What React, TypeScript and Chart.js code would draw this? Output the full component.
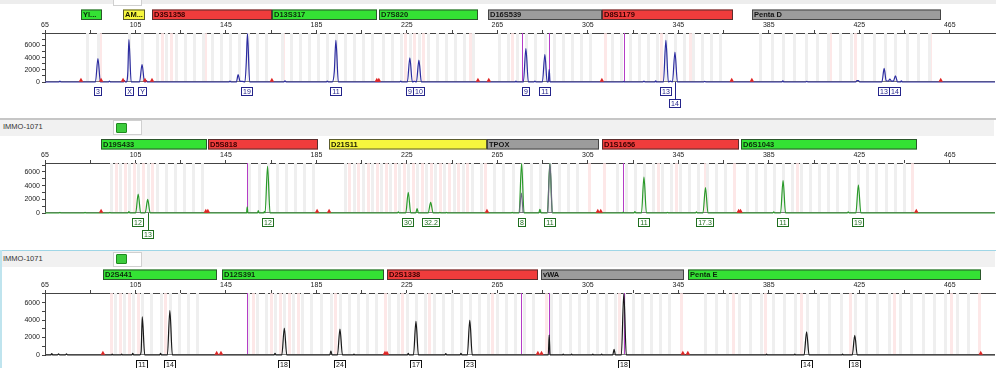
import React, { useEffect, useRef } from 'react';
import { Chart, registerables } from 'chart.js';
Chart.register(...registerables);

type Pt = [number, number | null];
type Marker = [string, number, number, string];
type Lbl = [number, string, number];

const FONT = "Arial, 'Liberation Sans', sans-serif";

const xTickValues = [65, 85, 105, 125, 145, 165, 185, 205, 225, 245, 265, 285, 305, 325, 345, 365, 385, 405, 425, 445, 465];
const xLabelValues = [65, 105, 145, 185, 225, 265, 305, 345, 385, 425, 465];
const yTickValues = [0, 1000, 2000, 3000, 4000, 5000, 6000, 7000, 8000];
const yLabelValues = [0, 2000, 4000, 6000];

// ---------- Panel 1 (blue dye) ----------
const markersP1: Marker[] = [
  ['YI...', 80.9, 90.2, 'green'],
  ['AM...', 99.5, 109.2, 'yellow'],
  ['D3S1358', 112.3, 165.3, 'red'],
  ['D13S317', 165.3, 211.7, 'green'],
  ['D7S820', 212.6, 256.4, 'green'],
  ['D16S539', 260.8, 311.2, 'gray'],
  ['D8S1179', 311.2, 369.1, 'red'],
  ['Penta D', 377.5, 461.0, 'gray'],
];
const blueTrace: Pt[] = [
  [65, 0],
  [71.1, 0], [71.6, 150], [72.1, 0],
  [87.3, 0], [88.4, 3850], [89.5, 0],
  [93.0, 0], [93.5, 150], [94.0, 0],
  [99.7, 0], [100.1, 250], [100.5, 0],
  [100.9, 0], [101.6, 1500], [102.1, 6950], [103.1, 0],
  [106.8, 0], [107.9, 2870], [109.0, 0],
  [109.4, 0], [109.8, 250], [110.2, 0],
  [146.3, 0], [146.8, 150], [147.3, 0],
  [149.6, 0], [150.4, 1200], [151.2, 150], [152.2, 100], [153.4, 0], [154.0, 3300], [154.5, 7950], [155.5, 0],
  [170.6, 0], [171.1, 180], [171.6, 0],
  [189.3, 0], [189.8, 150], [190.3, 0],
  [192.0, 0], [192.9, 1700], [193.6, 6830], [194.7, 0],
  [221.8, 0], [222.3, 150], [222.8, 0],
  [225.2, 0], [226.3, 3950], [227.4, 0],
  [228.3, 120],
  [229.2, 0], [230.3, 3580], [231.4, 0],
  [272.8, 0], [273.2, 130], [273.6, 0],
  [276.5, 0], [277.6, 5480], [278.7, 0],
  [281.2, 0], [281.6, 150], [282.0, 0],
  [284.9, 0], [286.0, 4550], [287.0, 0], [287.5, 0], [287.9, 2060], [288.3, 0],
  [320.6, 0], [320.9, 100], [321.2, 0],
  [329.4, 0], [329.8, 150], [330.2, 0],
  [334.6, 0], [335.0, 200], [335.4, 0],
  [338.4, 0], [339.5, 6830], [340.6, 0],
  [341.5, 150],
  [342.4, 0], [343.5, 4930], [344.6, 0],
  [356.3, 0], [356.7, 100], [357.1, 0],
  [390.7, 0], [391.2, 200], [391.7, 0],
  [401.4, 0], [401.8, 100], [402.2, 0],
  [423.4, 0], [424.0, 250], [424.6, 250], [425.2, 0],
  [435.0, 0], [436.0, 2230], [436.9, 200], [437.9, 150], [438.5, 490], [439.2, 150], [440.1, 150], [441.0, 1020], [441.9, 0],
  [443.2, 0], [443.6, 200], [444.0, 0],
  [485, 0],
];
const labelsP1: Lbl[] = [
  [88.4, '3', 1], [102.1, 'X', 1], [107.9, 'Y', 1], [154.5, '19', 1], [193.6, '11', 1],
  [226.3, '9', 1], [230.3, '10', 1], [277.6, '9', 1], [286.0, '11', 1], [339.5, '13', 1],
  [343.5, '14', 2], [436.0, '13', 1], [440.8, '14', 1],
];
const triP1 = [80.9, 89.8, 99.5, 109.2, 112.3, 165.3, 211.7, 212.6, 256.4, 261.2, 311.2, 368.6, 377.5, 461.0];
const magentaP1 = [275.7, 287.9, 320.9];
const binsGrayP1 = [83.6, 88.4, 102.1, 107.9,
  114.7, 118.7, 122.7, 126.7, 130.7, 134.7, 138.7, 142.7, 146.7, 150.7, 154.7, 158.7, 162.7,
  169.6, 173.6, 177.6, 181.6, 185.6, 189.6, 193.6, 197.6, 201.6, 205.6, 209.6,
  214.3, 218.3, 222.3, 226.3, 230.3, 234.3, 238.3, 242.3, 246.3, 250.3, 254.3,
  265.6, 269.6, 273.6, 277.6, 281.8, 286.0, 290.0, 294.0, 298.0, 302.0, 306.0,
  315.5, 319.5, 323.5, 327.5, 331.5, 335.5, 339.5, 343.5, 347.5, 351.5, 355.5, 359.5, 363.5,
  381.3, 386.3, 391.3, 396.3, 401.3, 406.3, 411.3, 416.3, 421.3, 426.3, 431.3, 436.3, 441.0, 446.0, 451.0, 456.0];
const binsPinkP1 = [89.3, 116.7, 120.7, 135.7, 170.2, 224.3, 228.3, 232.3, 252.8, 271.4, 281.6, 305.9, 312.5, 337.5, 350.1, 363.3, 412.0, 423.0, 456.2];

// ---------- Panel 2 (green dye) ----------
const markersP2: Marker[] = [
  ['D19S433', 89.6, 136.5, 'green'],
  ['D5S818', 137.2, 185.8, 'red'],
  ['D21S11', 190.7, 260.2, 'yellow'],
  ['TPOX', 260.2, 309.9, 'gray'],
  ['D1S1656', 311.1, 371.9, 'red'],
  ['D6S1043', 372.5, 450.3, 'green'],
];
const greenTrace: Pt[] = [
  [65, 0],
  [71.2, 0], [71.6, 100], [72.0, 0],
  [82.3, 0], [82.7, 100], [83.1, 0],
  [93.3, 0], [93.7, 100], [94.1, 0],
  [101.7, 0], [102.1, 200], [102.5, 0],
  [105.1, 0], [106.2, 2770], [107.3, 0],
  [109.3, 0], [110.4, 1980], [111.5, 0],
  [154.1, 0], [154.4, 900], [154.7, 0],
  [158.9, 0], [159.3, 350], [159.7, 0],
  [161.6, 0], [162.0, 200], [162.3, 0],
  [162.3, 0], [163.4, 6820], [164.5, 0],
  [220.8, 0], [221.2, 150], [221.6, 0],
  [224.5, 0], [225.6, 3020], [226.7, 0],
  [228.9, 0], [229.5, 650], [230.1, 0],
  [234.4, 0], [235.5, 1540], [236.6, 0],
  [239.2, 0], [239.6, 100], [240.0, 0],
  [242.1, 0], [242.5, 100], [242.9, 0],
  [271.1, 0], [271.5, 100], [271.9, 0],
  [274.6, 0], [275.7, 7250], [276.8, 0],
  [283.3, 0], [283.8, 550], [284.3, 0],
  [287.1, 0], [288.2, 7250], [289.3, 0],
  [320.3, 0], [320.6, 120], [320.9, 0],
  [325.4, 0], [325.8, 200], [326.2, 0],
  [328.7, 0], [329.8, 5240], [330.9, 0],
  [339.8, 0], [340.2, 100], [340.6, 0],
  [352.6, 0], [353.0, 150], [353.4, 0],
  [355.9, 0], [357.0, 3700], [358.1, 0],
  [386.8, 0], [387.2, 150], [387.6, 0],
  [390.2, 0], [391.3, 4740], [392.4, 0],
  [419.7, 0], [420.1, 150], [420.5, 0],
  [423.5, 0], [424.6, 4100], [425.7, 0],
  [485, 0],
];
const greenPullUp: Pt[] = [
  [274.8, 0], [275.6, 2900], [276.4, 0], [282, null],
  [287.3, 0], [288.25, 7250], [289.2, 0],
];
const labelsP2: Lbl[] = [
  [106.2, '12', 1], [110.4, '13', 2], [163.4, '12', 1], [225.6, '30', 1], [235.5, '32.2', 1],
  [275.7, '8', 1], [288.2, '11', 1], [329.8, '11', 1], [357.0, '17.3', 1], [391.3, '11', 1], [424.6, '19', 1],
];
const triP2 = [89.8, 136.1, 137.0, 185.3, 190.6, 260.4, 309.4, 310.7, 371.7, 372.5, 450.2];
const magentaP2 = [154.4, 320.6];
const binsGrayP2 = [94.2, 98.2, 102.2, 106.2, 110.4, 114.4, 118.4, 122.4, 126.4, 130.4, 134.4,
  155.4, 159.4, 163.4, 167.4, 171.4, 175.4, 179.4, 183.4,
  197.6, 201.6, 205.6, 209.6, 213.6, 217.6, 221.6, 225.6, 229.6, 233.6, 237.6, 241.6, 245.6, 249.6, 253.6, 257.6,
  263.7, 267.7, 271.7, 275.7, 279.9, 284.0, 288.2, 292.2, 296.2, 300.2,
  317.8, 321.8, 325.8, 329.8, 333.8, 337.8, 341.8, 345.8, 349.8, 353.8, 357.8, 361.8, 365.8,
  375.3, 379.3, 383.3, 387.3, 391.3, 395.3, 399.3, 403.3, 407.3, 411.3, 415.3, 420.6, 424.6, 428.6, 432.6, 436.6, 440.6, 444.6];
const binsPinkP2 = [96.2, 100.2, 104.2, 108.3, 112.4, 199.6, 203.6, 207.6, 211.6, 215.6, 219.6, 223.6, 227.6,
  231.6, 235.6, 239.6, 243.6, 247.6, 251.6, 259.5, 305.5, 312.0, 335.8, 343.8, 357.0, 369.5, 397.3, 448.5];

// ---------- Panel 3 (black dye) ----------
const markersP3: Marker[] = [
  ['D2S441', 90.8, 140.9, 'green'],
  ['D12S391', 143.1, 215.0, 'green'],
  ['D2S1338', 216.0, 283.0, 'red'],
  ['vWA', 284.2, 347.6, 'gray'],
  ['Penta E', 349.1, 478.7, 'green'],
];
const blackTrace: Pt[] = [
  [65, 0],
  [67.5, 0], [68.0, 150], [68.5, 0], [70.5, 0], [71.0, 120], [71.5, 0], [74.0, 0], [74.5, 120], [75.0, 0],
  [94.3, 0], [94.7, 100], [95.1, 0],
  [98.5, 0], [98.9, 100], [99.3, 0],
  [103.4, 0], [103.8, 200], [104.2, 0],
  [106.9, 0], [107.5, 400], [108.0, 4360], [109.1, 0],
  [115.7, 0], [116.1, 200], [116.5, 0],
  [119.1, 0], [120.2, 5090], [121.3, 0],
  [166.3, 0], [166.7, 200], [167.1, 0],
  [169.7, 0], [170.8, 3090], [171.9, 0],
  [190.9, 0], [191.4, 460], [191.9, 0],
  [194.3, 0], [195.4, 2970], [196.5, 0],
  [201.2, 0], [201.6, 100], [202.0, 0],
  [225.2, 0], [225.6, 200], [226.0, 0],
  [227.9, 0], [229.0, 3850], [230.1, 0],
  [241.8, 0], [242.2, 150], [242.6, 0],
  [248.5, 0], [248.9, 200], [249.3, 0],
  [251.7, 0], [252.8, 3970], [253.9, 0],
  [287.5, 0], [287.9, 2310], [288.3, 0],
  [293.7, 0], [294.1, 100], [294.5, 0],
  [297.4, 0], [297.8, 100], [298.2, 0],
  [306.8, 0], [307.2, 100], [307.6, 0],
  [310.7, 0], [311.1, 100], [311.5, 0],
  [316.0, 0], [316.6, 660], [317.2, 0],
  [319.8, 0], [320.9, 7050], [322.0, 0],
  [383.6, 0], [384.0, 100], [384.4, 0],
  [396.1, 0], [396.5, 100], [396.9, 0],
  [400.6, 0], [401.7, 2660], [402.8, 0],
  [417.2, 0], [417.6, 100], [418.0, 0],
  [421.9, 0], [423.0, 2240], [424.1, 0],
  [485, 0],
];
const labelsP3: Lbl[] = [
  [108.0, '11', 1], [120.2, '14', 1], [170.8, '18', 1], [195.4, '24', 1], [229.0, '17', 1],
  [252.8, '23', 1], [320.9, '18', 1], [401.7, '14', 1], [423.0, '18', 1],
];
const triP3 = [90.6, 140.9, 142.8, 215.3, 216.2, 282.9, 284.5, 347.0, 349.2, 478.7];
const magentaP3 = [154.4, 275.4, 287.9, 320.9];
const binsGrayP3 = [96.0, 100.0, 104.0, 108.0, 112.0, 116.2, 120.2, 124.2, 128.2, 132.2,
  154.8, 158.8, 162.8, 166.8, 170.8, 174.8, 178.8, 182.8, 186.8, 191.4, 195.4, 199.4, 203.4, 207.4, 211.4,
  217.0, 221.0, 225.0, 229.0, 232.8, 236.8, 240.8, 244.8, 248.8, 252.8, 256.8, 260.8, 264.8, 268.8, 272.8, 276.8, 280.8,
  288.9, 292.9, 296.9, 300.9, 304.9, 308.9, 312.9, 316.9, 320.9, 324.9, 328.9, 332.9, 336.9, 340.9,
  356.7, 361.7, 366.7, 371.7, 376.7, 381.7, 386.7, 391.7, 396.7, 401.7, 406.7, 411.7, 416.7, 423.0, 428.0,
  433.0, 438.0, 443.0, 448.0, 453.0, 458.0, 463.0, 468.0, 473.0];
const binsPinkP3 = [94.0, 98.0, 102.0, 106.0, 118.2, 156.8, 164.8, 168.8, 172.8, 176.8, 193.4, 215.5, 223.0,
  234.8, 262.8, 286.5, 318.9, 346.0, 369.2, 383.2, 399.2, 421.0, 440.5, 465.5, 478.0];

const BAR_FILL: Record<string, string> = { green: '#34e234', red: '#f03c3c', gray: '#9c9c9c', yellow: '#f6f63e' };
const BAR_TEXT: Record<string, string> = { green: '#0b2a0b', red: '#3a0000', gray: '#141414', yellow: '#1a1a00' };

const decorPlugin = {
  id: 'decor',
  beforeDatasetsDraw(chart: any, _a: any, o: any) {
    const { ctx, chartArea: a } = chart;
    const x = chart.scales.x;
    ctx.save();
    ctx.beginPath();
    ctx.rect(a.left, a.top, a.right - a.left, a.bottom - a.top);
    ctx.clip();
    ctx.fillStyle = 'rgba(252,226,226,0.8)';
    for (const b of o.pink) {
      const px = Math.round(x.getPixelForValue(b));
      ctx.fillRect(px - 1, a.top, 3, a.bottom - a.top);
    }
    ctx.fillStyle = '#efefef';
    for (const b of o.gray) {
      const px = Math.round(x.getPixelForValue(b));
      ctx.fillRect(px - 1, a.top, 3, a.bottom - a.top);
    }
    ctx.strokeStyle = '#b43cc6';
    ctx.lineWidth = 1;
    for (const m of o.magenta) {
      const px = Math.round(x.getPixelForValue(m)) + 0.5;
      ctx.beginPath();
      ctx.moveTo(px, a.top);
      ctx.lineTo(px, a.bottom);
      ctx.stroke();
    }
    ctx.strokeStyle = '#7a7a7a';
    ctx.beginPath();
    ctx.moveTo(a.left, a.bottom - 0.5);
    ctx.lineTo(a.right, a.bottom - 0.5);
    ctx.stroke();
    ctx.restore();
  },
  afterDraw(chart: any, _a: any, o: any) {
    const { ctx, chartArea: a } = chart;
    const x = chart.scales.x;
    ctx.save();
    // marker bars
    const barTop = a.top - o.barOffset;
    const barH = 10.5;
    for (const [name, s, e, c] of o.markers as Marker[]) {
      const x0 = Math.round(x.getPixelForValue(s));
      const x1 = Math.round(x.getPixelForValue(e));
      ctx.fillStyle = BAR_FILL[c];
      ctx.fillRect(x0, barTop, x1 - x0, barH);
      ctx.strokeStyle = 'rgba(40,40,40,0.75)';
      ctx.lineWidth = 1;
      ctx.strokeRect(x0 + 0.5, barTop + 0.5, x1 - x0 - 1, barH - 1);
      ctx.save();
      ctx.beginPath();
      ctx.rect(x0, barTop, x1 - x0, barH);
      ctx.clip();
      ctx.fillStyle = BAR_TEXT[c];
      ctx.font = `bold 7.5px ${FONT}`;
      ctx.textAlign = 'left';
      ctx.textBaseline = 'middle';
      ctx.fillText(name, x0 + 2, barTop + barH / 2 + 0.5);
      ctx.restore();
    }
    // allele labels
    ctx.font = `7px ${FONT}`;
    ctx.textAlign = 'center';
    ctx.textBaseline = 'middle';
    for (const [v, t, row] of o.labels as Lbl[]) {
      const px = Math.round(x.getPixelForValue(v));
      const w = Math.ceil(ctx.measureText(t).width) + 4;
      const top = Math.round(a.bottom) + (row === 2 ? 17 : 5);
      const left = Math.round(px - w / 2);
      ctx.strokeStyle = o.labelColor;
      ctx.lineWidth = 1;
      if (row === 2) {
        ctx.beginPath();
        ctx.moveTo(px + 0.5, a.bottom);
        ctx.lineTo(px + 0.5, top);
        ctx.stroke();
      }
      ctx.fillStyle = '#ffffff';
      ctx.fillRect(left, top, w, 9);
      ctx.strokeRect(left + 0.5, top + 0.5, w - 1, 8);
      ctx.fillStyle = o.labelColor;
      ctx.fillText(t, left + w / 2, top + 5);
    }
    ctx.restore();
  },
};

interface PanelDef {
  top: number; height: number; axisH: number; padBottom: number; yMax: number;
  trace: Pt[]; overlay: Pt[] | null; color: string; overlayColor: string; labelColor: string;
  markers: Marker[]; tri: number[]; triY: number; magenta: number[]; gray: number[]; pink: number[];
  labels: Lbl[]; barOffset: number;
}

const panels: PanelDef[] = [
  { top: 0, height: 118, axisH: 33, padBottom: 36, yMax: 8050, trace: blueTrace, overlay: null, color: '#2c2ca0', overlayColor: '', labelColor: '#23238a',
    markers: markersP1, tri: triP1, triY: 260, magenta: magentaP1, gray: binsGrayP1, pink: binsPinkP1, labels: labelsP1, barOffset: 23.5 },
  { top: 118, height: 130, axisH: 45, padBottom: 35, yMax: 7300, trace: greenTrace, overlay: greenPullUp, color: '#2a9a2a', overlayColor: '#6b6b80', labelColor: '#1f6e1f',
    markers: markersP2, tri: triP2, triY: 240, magenta: magentaP2, gray: binsGrayP2, pink: binsPinkP2, labels: labelsP2, barOffset: 24 },
  { top: 248, height: 120, axisH: 45, padBottom: 13, yMax: 7100, trace: blackTrace, overlay: null, color: '#1a1a1a', overlayColor: '', labelColor: '#111111',
    markers: markersP3, tri: triP3, triY: 190, magenta: magentaP3, gray: binsGrayP3, pink: binsPinkP3, labels: labelsP3, barOffset: 23.5 },
];

function buildChart(canvas: HTMLCanvasElement, p: PanelDef) {
  const datasets: any[] = [
    {
      type: 'line', data: p.trace.map(([x, y]) => ({ x, y })), borderColor: p.color, borderWidth: 1.2,
      pointRadius: 0, cubicInterpolationMode: 'monotone', fill: false, order: 2, clip: 2,
    },
  ];
  if (p.overlay) {
    datasets.push({
      type: 'line', data: p.overlay.map(([x, y]) => ({ x, y })), borderColor: p.overlayColor, borderWidth: 1.2,
      pointRadius: 0, cubicInterpolationMode: 'monotone', fill: false, order: 1, spanGaps: false, clip: 2,
    });
  }
  datasets.push({
    type: 'scatter', data: p.tri.map((v) => ({ x: v, y: p.triY })), pointStyle: 'triangle', pointRadius: 2.6,
    backgroundColor: '#e02626', borderColor: '#e02626', borderWidth: 0, order: 0, clip: false,
  });
  return new Chart(canvas, {
    type: 'line',
    data: { datasets },
    plugins: [decorPlugin as any],
    options: {
      responsive: false,
      animation: false,
      devicePixelRatio: 1,
      events: [],
      layout: { padding: { left: 0, right: 5, top: 0, bottom: p.padBottom } },
      plugins: {
        legend: { display: false },
        tooltip: { enabled: false },
        decor: {
          markers: p.markers, labels: p.labels, labelColor: p.labelColor, magenta: p.magenta,
          gray: p.gray, pink: p.pink, barOffset: p.barOffset,
        },
      } as any,
      scales: {
        x: {
          type: 'linear', position: 'top', min: 65, max: 485,
          afterBuildTicks: (s: any) => { s.ticks = xTickValues.map((v) => ({ value: v })); },
          afterFit: (s: any) => { s.height = p.axisH; },
          ticks: {
            autoSkip: false, maxRotation: 0, padding: 1, color: '#222',
            font: { size: 7, family: FONT },
            callback: (v: any) => (xLabelValues.includes(Number(v)) ? String(v) : ''),
          },
          grid: { drawOnChartArea: false, drawTicks: true, tickLength: 3, color: '#444' },
          border: { color: '#444', width: 1 },
        },
        y: {
          type: 'linear', position: 'left', min: 0, max: p.yMax,
          afterBuildTicks: (s: any) => { s.ticks = yTickValues.filter((v) => v <= p.yMax).map((v) => ({ value: v })); },
          afterFit: (s: any) => { s.width = 45; },
          ticks: {
            autoSkip: false, padding: 2, color: '#222',
            font: { size: 7, family: FONT },
            callback: (v: any) => (yLabelValues.includes(Number(v)) ? String(v) : ''),
          },
          grid: { drawOnChartArea: false, drawTicks: true, tickLength: 3, color: '#444' },
          border: { color: '#444', width: 1 },
        },
      },
    } as any,
  });
}

function Header({ top, selected }: { top: number; selected: boolean }) {
  return (
    <>
      <div style={{ position: 'absolute', left: 0, top, width: 996, height: 1.5, background: selected ? '#9fd6e6' : '#c6c6c6' }} />
      <div style={{ position: 'absolute', left: selected ? 1 : 0, top: top + 1.5, width: 994, height: 16, background: '#f1f1f1' }} />
      <div style={{ position: 'absolute', left: 3, top: top + 4, fontFamily: FONT, fontSize: 7.5, color: '#333', lineHeight: '9px' }}>IMMO-1071</div>
      <div style={{ position: 'absolute', left: 113, top: top + 2, width: 29, height: 15, background: '#fff', border: '1px solid #d0d0d0', boxSizing: 'border-box' }} />
      <div style={{ position: 'absolute', left: 116, top: top + 4.5, width: 11, height: 10, background: '#3ccc3c', border: '1px solid #1f8a1f', boxSizing: 'border-box', borderRadius: 1 }} />
    </>
  );
}

export default function App() {
  const r1 = useRef<HTMLCanvasElement>(null);
  const r2 = useRef<HTMLCanvasElement>(null);
  const r3 = useRef<HTMLCanvasElement>(null);
  useEffect(() => {
    const refs = [r1, r2, r3];
    const charts = panels.map((p, i) => buildChart(refs[i].current as HTMLCanvasElement, p));
    return () => charts.forEach((c) => c.destroy());
  }, []);
  const refs = [r1, r2, r3];
  return (
    <div style={{ position: 'fixed', left: 0, top: 0, width: 1000, height: 368, background: '#fff', overflow: 'hidden' }}>
      {/* tail of the previous header */}
      <div style={{ position: 'absolute', left: 0, top: 0, width: 996, height: 4, background: '#ededed' }} />
      <div style={{ position: 'absolute', left: 113, top: -10, width: 29, height: 16, background: '#fff', border: '1px solid #d0d0d0', boxSizing: 'border-box' }} />
      <Header top={118} selected={false} />
      <Header top={249.5} selected={true} />
      <div style={{ position: 'absolute', left: 0, top: 250, width: 1.5, height: 118, background: '#bfe4ee' }} />
      {panels.map((p, i) => (
        <canvas
          key={i}
          ref={refs[i]}
          width={1000}
          height={p.height}
          style={{ position: 'absolute', left: 0, top: p.top, width: 1000, height: p.height }}
        />
      ))}
    </div>
  );
}
